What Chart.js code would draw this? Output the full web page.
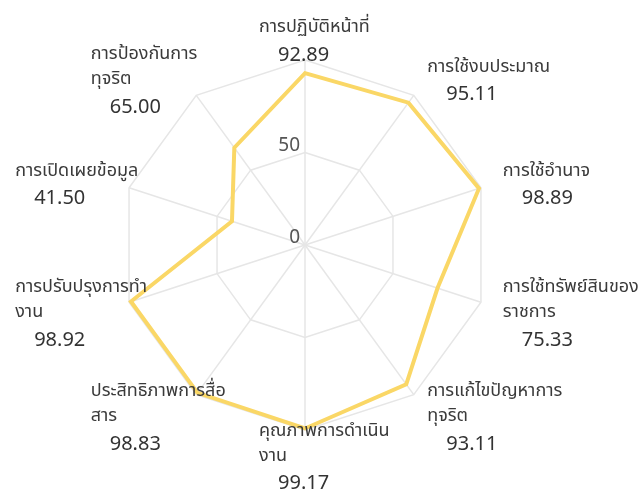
<!DOCTYPE html>
<html>
<head>
<meta charset="utf-8">
<script src="https://cdn.jsdelivr.net/npm/chart.js@4.4.1/dist/chart.umd.min.js"></script>
<style>
  html, body { margin: 0; padding: 0; background: #fff; }
  #wrap { width: 643px; height: 491px; }
</style>
</head>
<body>
<div id="wrap"><canvas id="radar"></canvas></div>
<script>
// axis names, already broken into lines like the original
const categories = [
    ['การปฏิบัติหน้าที่'],
    ['การใช้งบประมาณ'],
    ['การใช้อำนาจ'],
    ['การใช้ทรัพย์สินของ', 'ราชการ'],
    ['การแก้ไขปัญหาการ', 'ทุจริต'],
    ['คุณภาพการดำเนิน', 'งาน'],
    ['ประสิทธิภาพการสื่อ', 'สาร'],
    ['การปรับปรุงการทำ', 'งาน'],
    ['การเปิดเผยข้อมูล'],
    ['การป้องกันการ', 'ทุจริต']
];
const scores = [92.89, 95.11, 98.89, 75.33, 93.11, 99.17, 98.83, 98.92, 41.50, 65.00];
const tickValues = [0, 50];

const nameFont = "18px 'Noto Sans Thai', 'Noto Sans', sans-serif";
const numFont = "20px 'Noto Sans', sans-serif";
const tickFont = "19px 'Noto Sans', sans-serif";

// draws axis names + scores and the 0 / 50 tick labels
const labelPlugin = {
    id: 'labelPlugin',
    afterDraw(chart) {
        const scale = chart.scales.r;
        const ctx = chart.ctx;
        const R = scale.drawingArea;
        ctx.save();
        ctx.textBaseline = 'alphabetic';

        // tick labels
        ctx.font = tickFont;
        ctx.fillStyle = '#555';
        ctx.textAlign = 'right';
        tickValues.forEach(v => {
            const d = scale.getDistanceFromCenterForValue(v);
            ctx.fillText(String(v), scale.xCenter - 5, scale.yCenter - d - 2);
        });

        ctx.textAlign = 'left';
        categories.forEach((lines, i) => {
            const angle = scale.getIndexAngle(i);
            const sin = Math.sin(angle);
            const anchor = scale.getPointPosition(i, R + 23);
            const boxW = 92;
            let left;
            if (sin > 0.01) left = anchor.x;
            else if (sin < -0.01) left = anchor.x - boxW;
            else left = anchor.x - boxW / 2;

            const span = (lines.length - 1) * 25 + 28.5;
            let y = anchor.y + 9.5 - span / 2;

            ctx.font = nameFont;
            ctx.fillStyle = '#3a3a3a';
            lines.forEach(line => {
                ctx.fillText(line, left, y);
                y += 25;
            });
            y += 3.5;
            ctx.font = numFont;
            ctx.fillStyle = '#333';
            ctx.fillText(scores[i].toFixed(2), left + 19, y);
        });
        ctx.restore();
    }
};

const ctx = document.getElementById('radar').getContext('2d');
new Chart(ctx, {
    type: 'radar',
    data: {
        labels: categories,
        datasets: [{
            data: scores,
            borderColor: '#fad766',
            borderWidth: 4,
            backgroundColor: 'rgba(0,0,0,0)',
            fill: false,
            pointRadius: 0,
            pointHoverRadius: 0
        }]
    },
    options: {
        responsive: true,
        maintainAspectRatio: false,
        animation: false,
        layout: { padding: { left: 120, right: 153, top: 60, bottom: 61 } },
        plugins: {
            legend: { display: false },
            tooltip: { enabled: false }
        },
        elements: { line: { tension: 0, borderJoinStyle: 'miter' } },
        scales: {
            r: {
                min: 0,
                max: 100,
                ticks: { display: false, stepSize: 50 },
                pointLabels: { display: false },
                grid: { color: '#e6e6e6', lineWidth: 1.5 },
                angleLines: { color: '#e6e6e6', lineWidth: 1.5 }
            }
        }
    },
    plugins: [labelPlugin]
});
</script>
</body>
</html>
